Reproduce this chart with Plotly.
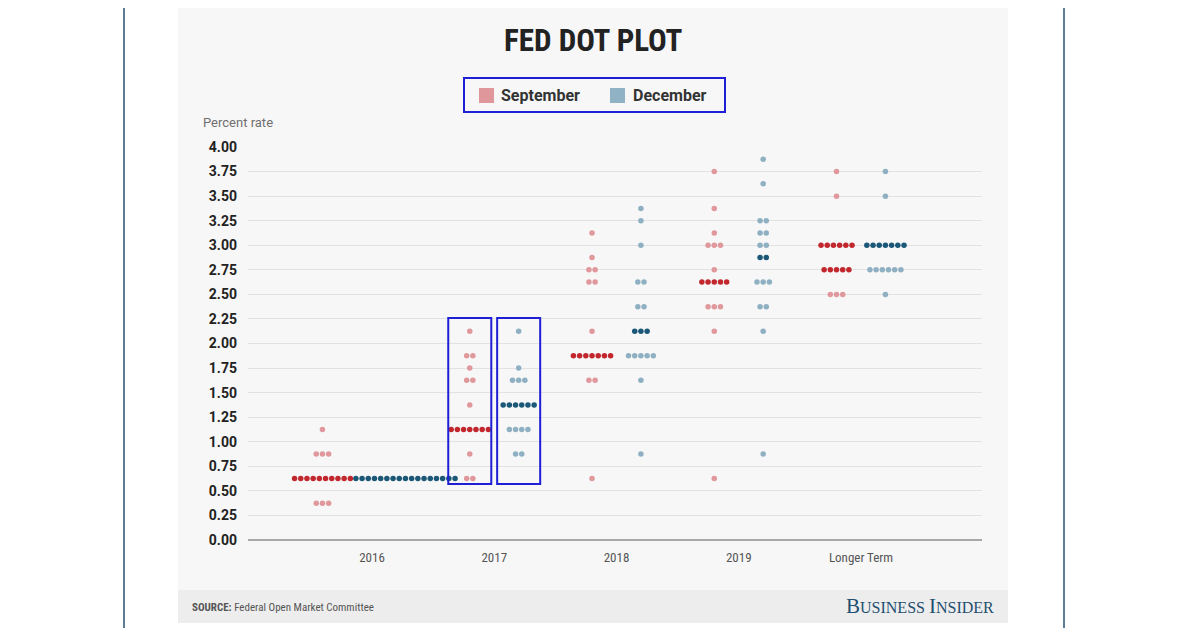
import plotly.graph_objects as go
import numpy as np

# categories on the x axis
years = ["2016", "2017", "2018", "2019", "Longer Term"]

# September projections: rate levels and number of dots per level, per year
sep_rates = [
    [0.375, 0.625, 0.875, 1.125],
    [0.625, 0.875, 1.125, 1.375, 1.625, 1.75, 1.875, 2.125],
    [0.625, 1.625, 1.875, 2.125, 2.625, 2.75, 2.875, 3.125],
    [0.625, 2.125, 2.375, 2.625, 2.75, 3.0, 3.125, 3.375, 3.75],
    [2.5, 2.75, 3.0, 3.5, 3.75],
]
sep_counts = [
    [3, 10, 3, 1],
    [2, 1, 7, 1, 2, 1, 2, 1],
    [1, 2, 7, 1, 2, 2, 1, 1],
    [1, 1, 3, 5, 1, 3, 1, 1, 1],
    [3, 5, 6, 1, 1],
]

# December projections
dec_rates = [
    [0.625],
    [0.875, 1.125, 1.375, 1.625, 1.75, 2.125],
    [0.875, 1.625, 1.875, 2.125, 2.375, 2.625, 3.0, 3.25, 3.375],
    [0.875, 2.125, 2.375, 2.625, 2.875, 3.0, 3.125, 3.25, 3.625, 3.875],
    [2.5, 2.75, 3.0, 3.5, 3.75],
]
dec_counts = [
    [17],
    [2, 4, 6, 3, 1, 1],
    [1, 1, 5, 3, 2, 2, 1, 1, 1],
    [1, 1, 2, 3, 2, 2, 2, 2, 1, 1],
    [1, 6, 7, 1, 1],
]

yticks = [i * 0.25 for i in range(17)]

# layout helpers, in pixels of the 1200x628 reference page.
# the page body has an 8px margin, so the figure itself is 8px smaller
PAGE_W, PAGE_H, BODY = 1200, 628, 8
L, R, T, B = 248, 982, 147, 540


def px(x):
    return (x - L) / (R - L)


def py(y):
    return (B - y) / (B - T)


SEP_LIGHT, SEP_DARK = "#e0989c", "#c1272d"
DEC_LIGHT, DEC_DARK = "#8fb0c2", "#1b5878"
SPACING = 0.0507
# column centre offsets from the category position
sep_offsets = [-0.405, -0.2, -0.2, -0.2, -0.2]
dec_offsets = [0.274, 0.2, 0.2, 0.2, 0.2]


def median_levels(rates, counts):
    vals = np.repeat(rates, counts)
    vals.sort()
    n = len(vals)
    return {vals[(n - 1) // 2], vals[n // 2]}


def dots(rates_all, counts_all, offsets):
    light, dark = ([], []), ([], [])
    for i, (rates, counts) in enumerate(zip(rates_all, counts_all)):
        med = median_levels(rates, counts)
        centre = i + offsets[i]
        for r, c in zip(rates, counts):
            target = dark if r in med else light
            for k in range(c):
                target[0].append(centre + (k - (c - 1) / 2) * SPACING)
                target[1].append(r)
    return light, dark


fig = go.Figure()
for rates_all, counts_all, offs, cl, cd in [
    (sep_rates, sep_counts, sep_offsets, SEP_LIGHT, SEP_DARK),
    (dec_rates, dec_counts, dec_offsets, DEC_LIGHT, DEC_DARK),
]:
    light, dark = dots(rates_all, counts_all, offs)
    for (xs, ys), col in [(light, cl), (dark, cd)]:
        fig.add_trace(go.Scatter(x=xs, y=ys, mode="markers", showlegend=False,
                                 hoverinfo="skip",
                                 marker=dict(size=5.5, color=col, line=dict(width=0))))

shapes = [
    # panel + footer band
    dict(type="rect", xref="paper", yref="paper", x0=px(178), x1=px(1008), y0=py(590), y1=py(0),
         fillcolor="#f7f7f7", line=dict(width=0), layer="below"),
    dict(type="rect", xref="paper", yref="paper", x0=px(178), x1=px(1008), y0=py(623), y1=py(590),
         fillcolor="#ededed", line=dict(width=0), layer="below"),
    # outer frame lines
    dict(type="line", xref="paper", yref="paper", x0=px(124), x1=px(124), y0=py(0), y1=py(PAGE_H),
         line=dict(color="#5d7c95", width=2)),
    dict(type="line", xref="paper", yref="paper", x0=px(1064), x1=px(1064), y0=py(0), y1=py(PAGE_H),
         line=dict(color="#5d7c95", width=2)),
    # legend box and swatches
    dict(type="rect", xref="paper", yref="paper", x0=px(464), x1=px(725), y0=py(112), y1=py(78),
         line=dict(color="#1f1fd6", width=2)),
    dict(type="rect", xref="paper", yref="paper", x0=px(479), x1=px(494), y0=py(103), y1=py(88),
         fillcolor="#e0979b", line=dict(width=0)),
    dict(type="rect", xref="paper", yref="paper", x0=px(610), x1=px(625), y0=py(103), y1=py(88),
         fillcolor="#8fb2c5", line=dict(width=0)),
]
# highlight boxes around the 2017 columns
for off in (sep_offsets[1], dec_offsets[1]):
    shapes.append(dict(type="rect", xref="x", yref="y", x0=1 + off - 0.176, x1=1 + off + 0.176,
                       y0=0.57, y1=2.26, line=dict(color="#1f1fd6", width=2)))

cond = "Roboto Condensed, Liberation Sans Narrow, DejaVu Sans Condensed, sans-serif"
annotations = [
    dict(text="<b>FED DOT PLOT</b>", x=px(593), y=py(41), xref="paper", yref="paper",
         showarrow=False, xanchor="center", yanchor="middle",
         font=dict(family=cond, size=31, color="#222222")),
    dict(text="<b>September</b>", x=px(499), y=py(95.5), xref="paper", yref="paper",
         showarrow=False, xanchor="left", yanchor="middle",
         font=dict(family="Roboto", size=16, color="#333333")),
    dict(text="<b>December</b>", x=px(631), y=py(95.5), xref="paper", yref="paper",
         showarrow=False, xanchor="left", yanchor="middle",
         font=dict(family="Roboto", size=16, color="#333333")),
    dict(text="Percent rate", x=px(201), y=py(123), xref="paper", yref="paper",
         showarrow=False, xanchor="left", yanchor="middle",
         font=dict(family="Roboto", size=13, color="#707070")),
    dict(text="<b>SOURCE:</b> Federal Open Market Committee", x=px(190), y=py(607),
         xref="paper", yref="paper", showarrow=False, xanchor="left", yanchor="middle",
         font=dict(family=cond, size=11, color="#555555")),
    dict(text="<span style='font-size:21px'>B</span>USINESS <span style='font-size:21px'>I</span>NSIDER",
         x=px(996), y=py(606), xref="paper", yref="paper", showarrow=False,
         xanchor="right", yanchor="middle",
         font=dict(family="Liberation Serif, DejaVu Serif, serif", size=16, color="#1f4f70")),
]

fig.update_layout(
    width=PAGE_W - BODY, height=PAGE_H - BODY,
    margin=dict(l=L - BODY, r=PAGE_W - R, t=T - BODY, b=PAGE_H - B, pad=0),
    paper_bgcolor="white",
    plot_bgcolor="rgba(0,0,0,0)",
    shapes=shapes,
    annotations=annotations,
    showlegend=False,
    xaxis=dict(range=[-1.014, 4.99], tickvals=list(range(len(years))), ticktext=years,
               showgrid=False, zeroline=False, showline=False, ticks="", ticklabelstandoff=8,
               tickfont=dict(family=cond, size=13, color="#555555")),
    yaxis=dict(range=[0, 4.0], tickvals=yticks, ticktext=[f"{v:.2f}" for v in yticks],
               showgrid=True, gridcolor="#e2e2e2", gridwidth=1,
               zeroline=True, zerolinecolor="#a8a8a8", zerolinewidth=2,
               showline=False, ticks="", ticklabelstandoff=10,
               tickfont=dict(family="Roboto", size=14, color="#222222", weight="bold")),
)

fig.write_html("out.html")
